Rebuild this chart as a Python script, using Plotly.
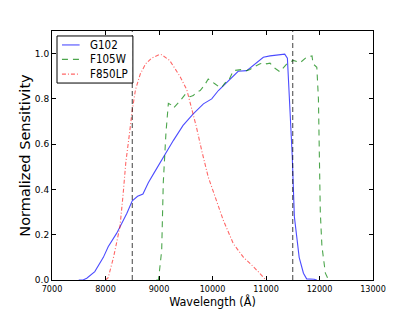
import plotly.graph_objects as go

# ---- data ----
g102_wl = [7500, 7580, 7650, 7800, 7960, 8050, 8210, 8270, 8400, 8500, 8600, 8700, 8800, 8900, 9000,
           9080, 9270, 9450, 9640, 9830, 9985, 10110, 10300, 10480, 10640, 10760, 10950, 11075, 11200,
           11350, 11400, 11450, 11490, 11530, 11580, 11620, 11700, 11760, 11900, 11950]
g102_val = [0, 0, 0.008, 0.037, 0.10, 0.147, 0.207, 0.235, 0.295, 0.35, 0.37, 0.38, 0.43, 0.47, 0.51,
            0.536, 0.617, 0.683, 0.734, 0.778, 0.80, 0.837, 0.88, 0.922, 0.925, 0.947, 0.984, 0.99, 0.995,
            0.998, 0.98, 0.75, 0.55, 0.28, 0.17, 0.10, 0.03, 0.005, 0.003, 0]

f105w_wl = [8950, 8990, 9050, 9080, 9130, 9175, 9220, 9270, 9390, 9490, 9520, 9580, 9640, 9700, 9770,
            9850, 9920, 10010, 10050, 10140, 10170, 10230, 10300, 10390, 10510, 10550, 10640, 10700,
            10760, 10830, 10890, 10980, 11010, 11075, 11140, 11260, 11390, 11510, 11640, 11760, 11860,
            11880, 11950, 11980, 12000, 12015, 12045, 12080, 12110, 12170]
f105w_val = [0, 0.0, 0.13, 0.43, 0.65, 0.78, 0.775, 0.76, 0.79, 0.82, 0.82, 0.81, 0.815, 0.83, 0.837,
             0.86, 0.888, 0.87, 0.866, 0.85, 0.85, 0.87, 0.88, 0.925, 0.93, 0.93, 0.925, 0.93,
             0.94, 0.947, 0.955, 0.96, 0.955, 0.958, 0.94, 0.92, 0.955, 0.97, 0.96, 0.985, 0.99,
             0.955, 0.94, 0.8, 0.55, 0.3, 0.15, 0.07, 0.03, 0]

f850lp_wl = [8000, 8050, 8150, 8270, 8330, 8380, 8450, 8500, 8560, 8650, 8750, 8860, 9000, 9050, 9200,
             9390, 9520, 9610, 9700, 9800, 9920, 10050, 10200, 10390, 10580, 10760, 10900, 10980, 11000]
f850lp_val = [0, 0.01, 0.10, 0.235, 0.38, 0.52, 0.65, 0.75, 0.84, 0.91, 0.955, 0.98, 0.995, 0.995, 0.97,
              0.90, 0.84, 0.76, 0.675, 0.57, 0.455, 0.367, 0.265, 0.16, 0.10, 0.06, 0.025, 0.008, 0]

cutoffs = [8500, 11500]
x_ticks = [7000, 8000, 9000, 10000, 11000, 12000, 13000]
y_ticks = [0.0, 0.2, 0.4, 0.6, 0.8, 1.0]
y_tick_labels = ["0.0", "0.2", "0.4", "0.6", "0.8", "1.0"]

series = [
    ("G102", g102_wl, g102_val, "rgba(0,0,255,0.7)", "solid"),
    ("F105W", f105w_wl, f105w_val, "rgba(0,128,0,0.7)", "6px,5px"),
    ("F850LP", f850lp_wl, f850lp_val, "rgba(255,0,0,0.6)", "4px,2px,1px,2px"),
]

FONT = "DejaVu Sans"
FONT_C = "DejaVu Sans Condensed, DejaVu Sans"

fig = go.Figure()
for name, wl, val, color, dash in series:
    fig.add_trace(go.Scatter(x=wl, y=val, mode="lines", name=name, showlegend=False,
                             line=dict(color=color, width=1.1, dash=dash)))

for c in cutoffs:
    fig.add_shape(type="line", xref="x", yref="paper", x0=c, x1=c, y0=0, y1=1,
                  line=dict(color="rgba(0,0,0,0.75)", width=1, dash="5px,3px"))

# ---- manual legend (layout in paper coordinates) ----
leg_x0, leg_x1, leg_y0, leg_y1 = 0.0156, 0.252, 0.791, 0.980
fig.add_shape(type="rect", xref="paper", yref="paper", x0=leg_x0, x1=leg_x1, y0=leg_y0, y1=leg_y1,
              line=dict(color="black", width=1), fillcolor="white", layer="above")
row_y = [0.944, 0.886, 0.827]
for (name, wl, val, color, dash), ry in zip(series, row_y):
    fig.add_shape(type="line", xref="paper", yref="paper", x0=0.031, x1=0.086, y0=ry, y1=ry,
                  line=dict(color=color, width=1.1, dash=dash), layer="above")
    fig.add_annotation(xref="paper", yref="paper", x=0.112, y=ry, text=name, showarrow=False,
                       xanchor="left", yanchor="middle",
                       font=dict(family=FONT_C, size=11.5, color="black"))

axis_common = dict(showline=True, linecolor="black", linewidth=1, mirror="ticks",
                   ticks="inside", ticklen=4, tickcolor="black", showgrid=False, zeroline=False,
                   automargin=False)

fig.update_layout(
    width=415, height=312,
    margin=dict(l=52, r=42, t=31, b=32),
    paper_bgcolor="white", plot_bgcolor="white",
    font=dict(family=FONT, size=10, color="black"),
    xaxis=dict(range=[7000, 13000], tickvals=x_ticks, ticktext=[str(v) for v in x_ticks],
               tickfont=dict(family=FONT_C, size=9, color="black"),
               title=dict(text="Wavelength (Å)", font=dict(family=FONT_C, size=12.5), standoff=3),
               **axis_common),
    yaxis=dict(range=[0, 1.1], tickvals=y_ticks, ticktext=y_tick_labels,
               tickfont=dict(family=FONT, size=9, color="black"),
               title=dict(text="Normalized Sensitivity", font=dict(family=FONT, size=14.5), standoff=0),
               **axis_common),
    showlegend=False,
)

fig.write_html("out.html", config={"displayModeBar": False},
               post_script="document.body.style.margin='0px';document.body.style.padding='0px';")
